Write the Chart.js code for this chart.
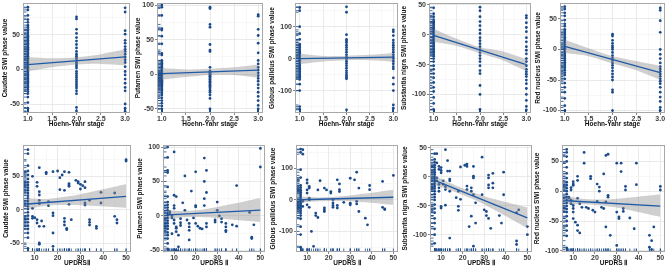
<!DOCTYPE html>
<html>
<head>
<meta charset="utf-8">
<script src="https://cdn.jsdelivr.net/npm/chart.js@4/dist/chart.umd.min.js"></script>
<style>
  body { margin: 0; background: #fff; width: 669px; height: 268px; position: relative; overflow: hidden; }
  canvas { position: absolute; }
</style>
</head>
<body>
<script>
// ---- data: Hoehn-Yahr stage (top row) ----
const hyStages = [1, 2, 3];

const caudateByStage = [
  [90, 86, 78, 72, 68, 64, 61, 58, 56, 53, 50, 48, 46, 44, 42, 40, 38, 36, 34, 32, 30, 29, 27, 25, 23, 21, 19, 18, 16, 14, 12, 10, 8, 7, 5, 3, 1, -1, -3, -5, -7, -9, -11, -13, -15, -17, -19, -21, -24, -26, -29, -32, -35, -40, -48, -56, -62],
  [76, 73, 58, 52, 46, 41, 36, 31, 26, 22, 19, 16, 13, 10, 8, 5, 2, -3, -6, -9, -12, -15, -18, -21, -24, -27, -31, -35, -55, -60],
  [89, 83, 56, 51, 42, 38, 33, 29, 26, 22, 18, 14, 10, 4, -3, -8, -14, -20, -26, -31, -50, -56, -61]
];
const putamenByStage = [
  [100, 97, 85, 66, 64, 55, 44, 30, 28, 20, 18, 16, 14, 12, 10, 8, 6, 4, 2, 1, 0, -1, -2, -4, -5, -6, -8, -9, -10, -12, -13, -15, -16, -18, -20, -22, -24, -27, -30, -34, -38, -42, -46, -50],
  [97, 95, 72, 68, 43, 35, 33, 10, 5, 3, 1, 0, -2, -3, -5, -7, -8, -10, -12, -14, -16, -18, -20, -23, -26, -30, -35, -50],
  [86, 84, 65, 56, 45, 31, 20, 15, 10, 6, 2, -2, -6, -10, -15, -20, -26, -32, -38, -45, -50]
];
const globusByStage = [
  [160, 150, 100, 78, 60, 45, 40, 35, 30, 25, 20, 15, 10, 5, 0, -5, -10, -15, -20, -25, -30, -35, -40, -45, -50, -55, -60, -65, -80, -100, -150, -158],
  [162, 145, 75, 60, 55, 50, 42, 35, 28, 20, 12, 5, 0, -8, -15, -22, -30, -38, -45, -52, -58, -63, -160],
  [90, 84, 72, 58, 50, 42, 35, 28, 20, 12, 5, 0, -8, -16, -25, -32, -60, -80, -100, -145, -155]
];
const nigraByStage = [
  [45, 35, 30, 25, 22, 20, 18, 15, 12, 10, 8, 5, 3, 0, -3, -5, -8, -10, -13, -15, -18, -20, -23, -25, -28, -30, -33, -36, -40, -45, -52, -58, -65, -72, -80, -88, -95, -105, -115, -125],
  [46, 40, 30, 22, 15, 8, 2, -5, -10, -15, -20, -25, -30, -35, -40, -45, -52, -60, -65, -85, -100, -125],
  [32, 28, 20, 12, 5, -5, -12, -20, -26, -32, -40, -45, -52, -58, -62, -66, -70, -76, -82, -90, -100, -110, -120, -126]
];
const redByStage = [
  [70, 66, 60, 55, 48, 42, 38, 33, 30, 27, 24, 20, 17, 14, 11, 8, 5, 2, 0, -3, -6, -9, -12, -15, -18, -21, -24, -27, -30, -34, -38, -42, -48, -55, -62, -70, -80, -92, -100],
  [25, 22, 15, 10, 6, 3, 0, -5, -10, -14, -18, -22, -26, -30, -35, -40, -45, -50, -66, -70, -100],
  [68, 64, 47, 28, 0, -8, -15, -22, -28, -32, -36, -40, -44, -48, -52, -56, -62, -70, -78, -85, -95, -100]
];

// fitted line [x, y] and confidence band [x, lower, upper]
const caudateHYFit = [[1, 7], [3, 18]];
const caudateHYBand = [[1, -3, 18], [1.5, 3, 16], [2, 7, 17.5], [2.5, 8, 22], [3, 6, 29]];
const putamenHYFit = [[1, 1], [3, 6]];
const putamenHYBand = [[1, -8, 9], [1.5, -4, 7], [2, -1, 8], [2.5, -1, 10], [3, -5, 14]];
const globusHYFit = [[1, 0], [3, 5]];
const globusHYBand = [[1, -17, 15], [1.5, -9, 8], [2, -5, 9], [2.5, -5, 12], [3, -9, 18]];
const nigraHYFit = [[1, -1], [3, -50]];
const nigraHYBand = [[1, -12, 10], [1.5, -19, -7], [2, -31, -21], [2.5, -43, -28], [3, -61, -41]];
const redHYFit = [[1, 5], [3, -38]];
const redHYBand = [[1, -6, 16], [1.5, -11, 2], [2, -23, -11], [2.5, -34, -19], [3, -50, -27]];

// ---- data: UPDRS II (bottom row), [score, phase value] ----
const caudateUpdrs = [[7,90],[7,84],[7,66],[7,58],[7,52],[7,46],[7,41],[7,37],[7,33],[7,29],[7,25],[7,21],[7,17],[7,13],[7,9],[7,5],[7,1],[7,-4],[7,-9],[7,-14],[7,-19],[7,-24],[7,-29],[7,-35],[7,-42],[7,-58],
  [9,50],[9,2],[9,-10],[9,-13],[10,-12],[11,-15],[11,-20],[12,63],[11,41],[11,35],[12,27],[12,22],[12,14],[12,9],[12,-25],[13,-17],[14,-25],[12,-50],[12,-52],
  [15,56],[15,54],[16,12],[16,6],[18,57],[18,-5],[18,-9],[18,-35],[18,-55],
  [20,58],[21,48],[21,30],[22,52],[23,57],[23,29],[23,-13],[23,-18],[23,-23],[24,-28],[24,-30],[25,56],[25,39],[25,37],[25,35],[25,8],[26,-15],
  [28,44],[29,42],[29,40],[30,38],[30,31],[31,36],[32,33],[32,42],[32,10],[32,7],[34,14],[34,-15],[34,-19],[34,-23],[37,-25],[37,-28],[39,26],[39,10],[45,25],[45,-10],[46,-15],[46,-20],[50,75],[50,73]];
const putamenUpdrs = [[7,100],[7,85],[7,66],[7,63],[7,42],[7,28],[7,20],[7,16],[7,12],[7,8],[7,4],[7,1],[7,-3],[7,-7],[7,-11],[7,-15],[7,-19],[7,-24],[7,-28],[7,-33],[7,-40],[7,-48],
  [8,6],[8,3],[9,0],[9,-3],[9,-26],[10,93],[10,30],[10,15],[10,11],[10,-6],[10,-11],[11,28],[11,-16],[11,-18],[11,-23],[12,-28],[11,-50],[12,-52],[12,-45],
  [13,-4],[13,-10],[13,-14],[14,19],[15,8],[15,58],[16,-6],[17,-11],[17,-16],[17,-21],[17,-35],[18,36],[19,-3],[20,13],[20,15],[20,-11],[20,64],[21,-15],[22,-18],[23,-19],[24,84],[24,50],[24,25],[24,15],[25,66],[25,34],[25,-11],[25,-16],
  [29,-6],[29,-9],[30,20],[30,8],[31,0],[32,-4],[32,-9],[34,-11],[34,-16],[34,-21],[34,-23],[37,-13],[39,44],[39,-15],[45,5],[46,-33],[46,-31],[47,-13],[50,98],[50,71]];
const globusUpdrs = [[7,160],[7,150],[7,95],[7,70],[7,45],[7,38],[7,30],[7,24],[7,18],[7,12],[7,6],[7,0],[7,-5],[7,-10],[7,-16],[7,-22],[7,-28],[7,-35],[7,-42],[7,-50],[7,-60],[7,-85],[7,-110],[7,-150],
  [8,158],[8,144],[8,-5],[8,-21],[10,63],[10,53],[10,31],[10,21],[10,-16],[11,42],[11,37],[11,5],[11,0],[11,-24],[12,-100],[13,-147],[14,-42],[14,-50],[15,31],[15,-56],[16,60],
  [18,37],[18,-26],[18,-32],[18,-37],[19,31],[21,26],[21,21],[22,-10],[22,-18],[22,-24],[22,0],[24,63],[24,-18],[24,-26],[25,50],[25,32],[25,26],[27,-8],[30,68],[30,-11],[30,-16],[32,63],[33,87],[33,-5],[33,-13],[34,37],[34,-37],[37,-58],[38,-79],[39,45],[39,32],[45,58],[45,-24],[46,-29],[46,-31],[50,77]];
const nigraUpdrs = [[7,40],[7,30],[7,25],[7,20],[7,16],[7,12],[7,8],[7,4],[7,0],[7,-4],[7,-8],[7,-12],[7,-16],[7,-20],[7,-25],[7,-30],[7,-35],[7,-40],[7,-48],[7,-55],[7,-62],[7,-72],[7,-80],[7,-90],[7,-100],[7,-115],
  [8,40],[8,24],[8,-2],[8,-7],[9,18],[9,13],[9,-13],[9,-19],[9,-25],[10,7],[10,11],[10,16],[10,-51],[10,-54],[11,-7],[11,-13],[12,47],[12,-49],[12,-17],[12,-22],[13,28],[13,10],[14,-4],[14,-7],[14,10],[14,-25],[14,-106],
  [17,-36],[18,-51],[18,-58],[18,-25],[19,-39],[19,17],[21,20],[22,22],[22,18],[22,-22],[22,-16],[23,-86],[24,-19],[24,-25],[24,-68],[25,-31],[25,-2],[25,1],[25,18],[25,-120],[26,-45],[26,-80],[29,34],[29,-31],[30,-57],[31,-60],[31,-67],[32,3],[32,-2],[32,-14],[32,-19],[32,-72],[33,-89],[34,6],[34,-11],[34,-19],[37,-67],[38,-80],[39,8],[39,-31],[45,-62],[45,-111],[45,-117],[46,-57],[50,-86],[50,-100]];
const redUpdrs = [[7,70],[7,65],[7,58],[7,50],[7,40],[7,30],[7,22],[7,15],[7,10],[7,5],[7,0],[7,-5],[7,-10],[7,-15],[7,-20],[7,-25],[7,-30],[7,-35],[7,-42],[7,-50],[7,-58],[7,-66],[7,-75],[7,-95],
  [8,-10],[8,-12],[9,6],[9,2],[9,-15],[9,-21],[10,16],[10,12],[10,10],[10,-24],[10,-29],[10,-35],[10,-46],[11,-52],[12,25],[12,18],[12,-12],[12,-57],[12,-66],[13,-70],[13,-21],[14,-27],[15,65],[15,47],[16,-27],[17,-29],[18,25],[18,21],[19,-32],[20,-35],[21,12],[21,-17],[22,7],[22,0],[23,-27],[24,-29],[24,29],[25,-18],[25,60],[25,-60],[26,62],[26,-7],[26,-10],[27,-74],
  [30,47],[30,-35],[30,-91],[31,-43],[31,-46],[32,47],[32,33],[33,-29],[33,-34],[34,8],[34,2],[36,-45],[38,-63],[39,47],[39,11],[45,-74],[45,-94],[46,-98],[46,-83],[47,-60],[50,8],[50,2]];

const caudateUpdrsFit = [[7, 8.5], [50, 20]];
const caudateUpdrsBand = [[7, 1, 17], [15, 6, 16], [25, 7, 20], [35, 6, 27], [50, 3, 38]];
const putamenUpdrsFit = [[7, 1.5], [50, 8.5]];
const putamenUpdrsBand = [[7, -5, 8], [15, -2, 7], [25, -2, 10], [35, -5, 16], [50, -9, 26]];
const globusUpdrsFit = [[7, 0], [50, 8]];
const globusUpdrsBand = [[7, -9, 10], [15, -5, 7], [25, -4, 10], [35, -7, 18], [50, -16, 32]];
const nigraUpdrsFit = [[7, -6], [50, -71]];
const nigraUpdrsBand = [[7, -14, 2], [15, -24, -12], [25, -39, -27], [35, -58, -39], [50, -89, -53]];
const redUpdrsFit = [[7, -16], [50, -25]];
const redUpdrsBand = [[7, -22, -9], [15, -22, -13], [25, -25, -14], [35, -31, -11], [50, -43, -5]];

// ---- layout / styling ----
const pointColor = '#1b4a8a';
const lineColor = '#1f5aa6';
const bandColor = 'rgba(140,140,140,0.42)';
const fontFamily = '"Liberation Sans", Arial, sans-serif';

function stagePoints(byStage) {
  const pts = [];
  byStage.forEach((ys, i) => ys.forEach(y => pts.push({ x: hyStages[i], y })));
  return pts;
}
const pairPoints = arr => arr.map(([x, y]) => ({ x, y }));

const hyAxis = { min: 0.9, max: 3.1, minor: 0.25, major: 0.5, title: 'Hoehn-Yahr stage', fmt: v => v.toFixed(1) };
const updrsAxis = { min: 4.85, max: 52.15, minor: 5, major: 10, fmt: v => String(v) };

const panels = [
  { cl: 1, L: 23, R: 131, T: 3, B: 113, yMin: -63, yMax: 96, yMajor: 50, yTitle: 'Caudate SWI phase value', xa: hyAxis, pts: stagePoints(caudateByStage), fit: caudateHYFit, band: caudateHYBand },
  { cl: 134, L: 157, R: 264, T: 3, B: 113, yMin: -56, yMax: 103, yMajor: 50, yTitle: 'Putamen SWI phase value', xa: hyAxis, pts: stagePoints(putamenByStage), fit: putamenHYFit, band: putamenHYBand },
  { cl: 268, L: 295, R: 399, T: 3, B: 113, yMin: -170, yMax: 174, yMajor: 100, yTitle: 'Globus pallidus SWI phase value', xa: hyAxis, pts: stagePoints(globusByStage), fit: globusHYFit, band: globusHYBand },
  { cl: 400, L: 429, R: 532, T: 3, B: 113, yMin: -131, yMax: 53, yMajor: 50, yTitle: 'Substantia nigra SWI phase value', xa: hyAxis, pts: stagePoints(nigraByStage), fit: nigraHYFit, band: nigraHYBand },
  { cl: 534, L: 560, R: 666, T: 3, B: 113, yMin: -104, yMax: 76, yMajor: 50, yTitle: 'Red nucleus SWI phase value', xa: hyAxis, pts: stagePoints(redByStage), fit: redHYFit, band: redHYBand },
  { cl: 2, L: 23, R: 132, T: 145, B: 252, yMin: -63.5, yMax: 97, yMajor: 50, yTitle: 'Caudate SWI phase value', xa: updrsAxis, xTitle: 'UPDRSⅡ', pts: pairPoints(caudateUpdrs), fit: caudateUpdrsFit, band: caudateUpdrsBand },
  { cl: 136, L: 163, R: 266, T: 145, B: 252, yMin: -52.5, yMax: 103, yMajor: 50, yTitle: 'Putamen SWI phase value', xa: updrsAxis, xTitle: 'UPDRS Ⅱ', pts: pairPoints(putamenUpdrs), fit: putamenUpdrsFit, band: putamenUpdrsBand },
  { cl: 269, L: 296, R: 399, T: 145, B: 252, yMin: -165, yMax: 173, yMajor: 100, yTitle: 'Globus pallidus SWI phase value', xa: updrsAxis, xTitle: 'UPDRS Ⅱ', pts: pairPoints(globusUpdrs), fit: globusUpdrsFit, band: globusUpdrsBand },
  { cl: 401, L: 430, R: 533, T: 145, B: 252, yMin: -130, yMax: 55, yMajor: 50, yTitle: 'Substantia nigra SWI phase value', xa: updrsAxis, xTitle: 'UPDRS Ⅱ', pts: pairPoints(nigraUpdrs), fit: nigraUpdrsFit, band: nigraUpdrsBand },
  { cl: 533, L: 562, R: 666, T: 145, B: 252, yMin: -102, yMax: 77.5, yMajor: 50, yTitle: 'Red nucleus SWI phase value', xa: updrsAxis, xTitle: 'UPDRS Ⅱ', pts: pairPoints(redUpdrs), fit: redUpdrsFit, band: redUpdrsBand }
];

// rug marks along the left and bottom edges, plus the panel frame
const rugPlugin = {
  id: 'rug',
  afterDatasetsDraw(chart) {
    const { ctx, chartArea: a, scales: { x, y } } = chart;
    const pts = chart.data.datasets[0].data;
    ctx.save();
    ctx.strokeStyle = pointColor;
    ctx.lineWidth = 0.8;
    ctx.beginPath();
    pts.forEach(p => {
      const py = y.getPixelForValue(p.y);
      ctx.moveTo(a.left, py);
      ctx.lineTo(a.left + 3.5, py);
      const px = x.getPixelForValue(p.x);
      ctx.moveTo(px, a.bottom);
      ctx.lineTo(px, a.bottom - 3.5);
    });
    ctx.stroke();
    ctx.strokeStyle = '#a8a8a8';
    ctx.lineWidth = 1;
    ctx.strokeRect(a.left + 0.5, a.top + 0.5, a.width - 1, a.height - 1);
    ctx.restore();
  }
};

const isMult = (v, m) => Math.abs(v / m - Math.round(v / m)) < 1e-6;

function gridOpts(major) {
  return {
    color: c => (c.tick && isMult(c.tick.value, major)) ? '#e4e4e4' : '#f0f0f0',
    lineWidth: c => (c.tick && isMult(c.tick.value, major)) ? 0.8 : 0.5,
    tickColor: c => (c.tick && isMult(c.tick.value, major)) ? '#666' : 'rgba(0,0,0,0)',
    tickLength: 2,
    drawTicks: true
  };
}

const tickFont = { family: fontFamily, size: 7, weight: 'bold' };
const titleFont = { family: fontFamily, size: 6.5, weight: 'bold' };

panels.forEach(p => {
  const c = document.createElement('canvas');
  const top = p.T - 6;
  const w = p.R + 3 - p.cl;
  const h = p.B + 15 - top;
  c.width = w;
  c.height = h;
  c.style.left = p.cl + 'px';
  c.style.top = top + 'px';
  c.style.width = w + 'px';
  c.style.height = h + 'px';
  document.body.appendChild(c);

  const xa = p.xa;
  new Chart(c, {
    type: 'line',
    data: {
      datasets: [
        { data: p.pts, showLine: false, pointRadius: 1.4, pointBackgroundColor: pointColor, pointBorderWidth: 0, order: 3 },
        { data: p.band.map(b => ({ x: b[0], y: b[2] })), pointRadius: 0, borderWidth: 0, tension: 0.3, fill: '+1', backgroundColor: bandColor, order: 2 },
        { data: p.band.map(b => ({ x: b[0], y: b[1] })), pointRadius: 0, borderWidth: 0, tension: 0.3, fill: false, order: 2 },
        { data: p.fit.map(([x, y]) => ({ x, y })), pointRadius: 0, borderColor: lineColor, borderWidth: 1.3, fill: false, order: 1 }
      ]
    },
    options: {
      responsive: false,
      animation: false,
      events: [],
      layout: { padding: { top: 6, right: 3, left: 0, bottom: 0 } },
      plugins: { legend: { display: false }, tooltip: { enabled: false } },
      scales: {
        x: {
          type: 'linear', min: xa.min, max: xa.max,
          afterFit: s => { s.height = 15; },
          border: { display: false },
          grid: gridOpts(xa.major),
          ticks: {
            stepSize: xa.minor, includeBounds: false, autoSkip: false, maxRotation: 0, padding: 0,
            color: '#3d3d3d', font: tickFont,
            callback: v => isMult(v, xa.major) ? xa.fmt(v) : ''
          },
          title: { display: true, text: p.xTitle || xa.title, color: '#111', font: titleFont, padding: 0 }
        },
        y: {
          type: 'linear', min: p.yMin, max: p.yMax,
          afterFit: s => { s.width = p.L - p.cl; },
          border: { display: false },
          grid: gridOpts(p.yMajor),
          ticks: {
            stepSize: p.yMajor / 2, includeBounds: false, autoSkip: false, padding: 1,
            color: '#3d3d3d', font: tickFont,
            callback: v => isMult(v, p.yMajor) ? String(v) : ''
          },
          title: { display: true, text: p.yTitle, color: '#111', font: titleFont, padding: 0 }
        }
      }
    },
    plugins: [rugPlugin]
  });
});
</script>
</body>
</html>
